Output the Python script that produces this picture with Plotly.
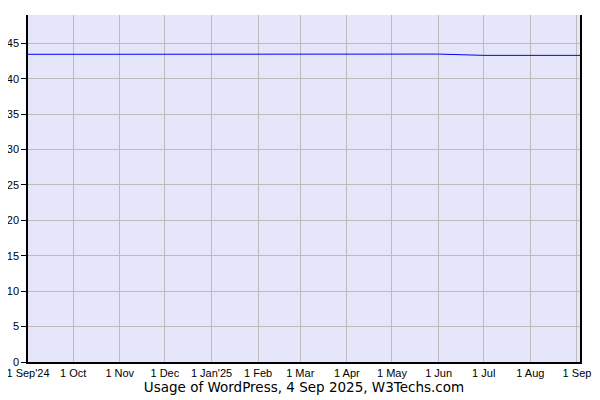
###############################################################################
# Usage of WordPress over the last year (W3Techs style chart)
# ~~~~~~~~~~~~~~~~~~~~~~~~~~~~~~~~~~~~~~~~~~~~~~~~~~~~~~~~~~~~

import plotly.graph_objs as go

# Monthly usage share in percent
dates = [
    "2024-09-01", "2024-10-01", "2024-11-01", "2024-12-01", "2025-01-01",
    "2025-02-01", "2025-03-01", "2025-04-01", "2025-05-01", "2025-06-01",
    "2025-07-01", "2025-08-01", "2025-09-03",
]
usage = [43.45, 43.45, 43.55, 43.55, 43.55, 43.48, 43.48, 43.48, 43.48, 43.48,
         43.3, 43.3, 43.3]

tick_vals = [
    "2024-09-01", "2024-10-01", "2024-11-01", "2024-12-01", "2025-01-01",
    "2025-02-01", "2025-03-01", "2025-04-01", "2025-05-01", "2025-06-01",
    "2025-07-01", "2025-08-01", "2025-09-01",
]
tick_text = ["1 Sep'24", "1 Oct", "1 Nov", "1 Dec", "1 Jan'25", "1 Feb", "1 Mar",
             "1 Apr", "1 May", "1 Jun", "1 Jul", "1 Aug", "1 Sep"]

y_ticks = [0, 5, 10, 15, 20, 25, 30, 35, 40, 45]

line = go.Scatter(x=dates, y=usage, mode="lines",
                  line=dict(color="#0000FF", width=1), hoverinfo="x+y")

fig = go.Figure(data=[line])

# the page body adds an 8px offset, so the margins are shifted to compensate
fig.update_layout(
    width=600,
    height=400,
    margin=dict(l=20, r=28, t=7, b=46),
    paper_bgcolor="white",
    plot_bgcolor="#E6E6FA",
    showlegend=False,
    font=dict(family="Liberation Sans, Arial, sans-serif", size=11, color="black"),
)

fig.update_xaxes(
    range=["2024-09-01", "2025-09-03"],
    tickvals=tick_vals,
    ticktext=tick_text,
    tickangle=0,
    tickfont=dict(size=11),
    ticklabeloverflow="allow",
    automargin=False,
    showgrid=True,
    gridcolor="#BBBBBB",
    gridwidth=1,
    showline=True,
    mirror=False,
    linecolor="black",
    linewidth=1.5,
    ticks="",
    zeroline=False,
    title=dict(
        text="Usage of WordPress, 4 Sep 2025, W3Techs.com",
        font=dict(family="DejaVu Sans", size=13.5, color="black"),
        standoff=4,
    ),
)

fig.update_yaxes(
    range=[0, 49],
    tickvals=y_ticks,
    ticklabeloverflow="allow",
    automargin=False,
    showgrid=True,
    gridcolor="#BBBBBB",
    gridwidth=1,
    showline=True,
    mirror=True,
    linecolor="black",
    linewidth=1.5,
    ticks="outside",
    ticklen=5,
    tickcolor="black",
    zeroline=False,
)

fig.write_html("out.html")
